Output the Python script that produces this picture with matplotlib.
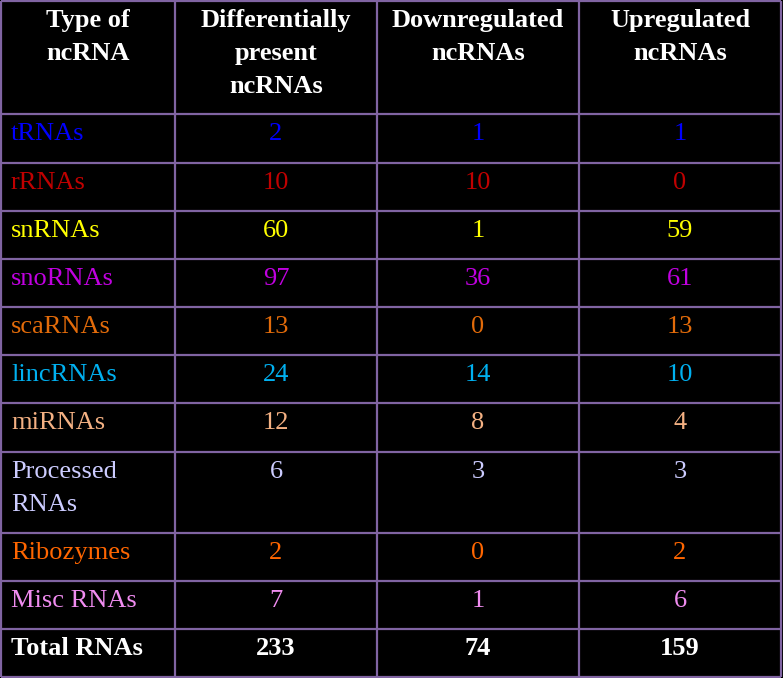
import matplotlib.pyplot as plt

# table contents
headers = ["Type of\nncRNA", "Differentially\npresent\nncRNAs", "Downregulated\nncRNAs", "Upregulated\nncRNAs"]
rna_types = ["tRNAs", "rRNAs", "snRNAs", "snoRNAs", "scaRNAs", "lincRNAs",
             "miRNAs", "Processed\nRNAs", "Ribozymes", "Misc RNAs"]
differential = [2, 10, 60, 97, 13, 24, 12, 6, 2, 7]
downregulated = [1, 10, 1, 36, 0, 14, 8, 3, 0, 1]
upregulated = [1, 0, 59, 61, 13, 10, 4, 3, 2, 6]
row_colors = ["#0000FF", "#C00000", "#FFFF00", "#C000E0", "#E26B0A",
              "#00B0F0", "#F4B183", "#CCCCFF", "#FF6600", "#F08CF0"]

# layout (pixels)
col_edges = [1, 175, 377, 579, 781]
row_heights = [113, 49, 48, 48, 48, 48, 48, 49, 81, 48, 48, 48]
grid_color = "#8064A2"
fs = 19
font = "Liberation Serif"
baseline_off = 26
line_step = 33

row_edges = [1]
for h in row_heights:
    row_edges.append(row_edges[-1] + h)

fig = plt.figure(figsize=(7.83, 6.78), dpi=100, facecolor="black")
ax = fig.add_axes([0, 0, 1, 1])
ax.set_xlim(0, 783)
ax.set_ylim(678, 0)
ax.axis("off")
ax.set_facecolor("black")

ax.hlines(row_edges, col_edges[0], col_edges[-1], colors=grid_color, linewidth=1.6)
ax.vlines(col_edges, row_edges[0], row_edges[-1], colors=grid_color, linewidth=1.6)

centers = [(col_edges[i] + col_edges[i + 1]) / 2 for i in range(4)]


def cell_text(x, top, s, color, ha, bold=False):
    for k, line in enumerate(s.split("\n")):
        ax.text(x, top + baseline_off + k * line_step, line, color=color, fontsize=fs,
                fontweight="bold" if bold else "normal", family=font,
                ha=ha, va="baseline")


# header
for i, h in enumerate(headers):
    cell_text(centers[i], row_edges[0], h, "white", "center", bold=True)

# body rows
for r, name in enumerate(rna_types):
    top = row_edges[r + 1]
    c = row_colors[r]
    cell_text(col_edges[0] + 10, top, name, c, "left")
    for i, vals in enumerate([differential, downregulated, upregulated]):
        cell_text(centers[i + 1], top, str(vals[r]), c, "center")

# total row
top = row_edges[-2]
cell_text(col_edges[0] + 10, top, "Total RNAs", "white", "left", bold=True)
for i, vals in enumerate([differential, downregulated, upregulated]):
    cell_text(centers[i + 1], top, str(sum(vals)), "white", "center", bold=True)

fig.savefig("out.png", dpi=100, facecolor="black")
